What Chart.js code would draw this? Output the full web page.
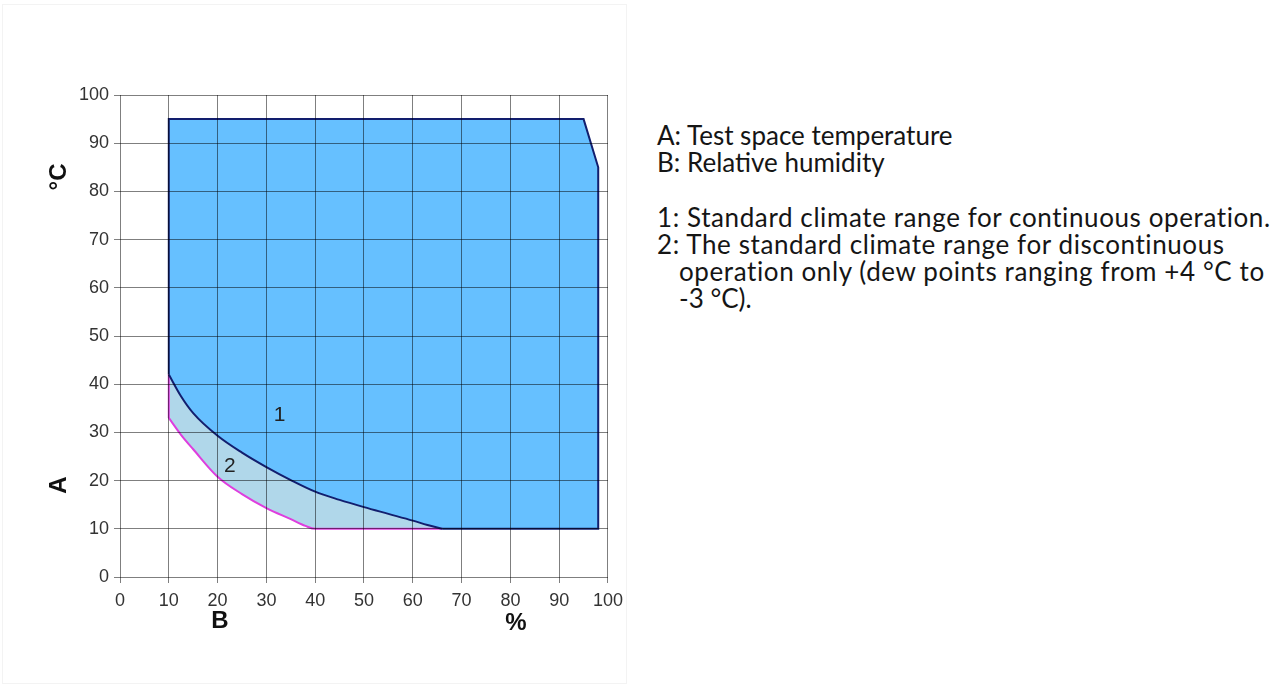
<!DOCTYPE html>
<html>
<head>
<meta charset="utf-8">
<script src="https://cdn.jsdelivr.net/npm/chart.js@4.4.1/dist/chart.umd.min.js"></script>
<style>
  body{margin:0;background:#fff;width:1279px;height:687px;overflow:hidden;position:relative;}
  #panel{position:absolute;left:2px;top:4px;width:625px;height:680px;border:1px solid #f3f3f3;box-sizing:border-box;}
  #wrap{position:absolute;left:0;top:0;width:630px;height:687px;}
  #notes{position:absolute;left:657px;top:122px;font-family:Lato,"Open Sans",sans-serif;font-size:26px;line-height:27.2px;color:#151515;}
  #notes p{margin:0;white-space:nowrap;}
  #notes .wide{letter-spacing:0.6px;}
  .ind{padding-left:22px;}
</style>
</head>
<body>
<div id="panel"></div>
<div id="wrap"><canvas id="myChart" width="630" height="687"></canvas></div>
<div id="notes">
  <p>A: Test space temperature</p>
  <p>B: Relative humidity</p>
  <p>&nbsp;</p>
  <p class="wide">1: Standard climate range for continuous operation.</p>
  <p class="wide">2: The standard climate range for discontinuous</p>
  <p class="ind wide">operation only (dew points ranging from +4 °C to</p>
  <p class="ind">-3 °C).</p>
</div>
<script>
const ctx = document.getElementById("myChart").getContext("2d");

// relative humidity (%) / temperature (°C)
// range 1 straight outline: left edge, top, slanted corner, right edge, bottom
const edgeX=[10,10,95,98,98,66];
const edgeY=[42,95,95,85,10,10];

// dark curve between range 1 and range 2 (10 % -> 66 %)
const curveX=[10,12.5,15,20,25,30,35,40,45,50,55,60,63,66];
const curveY=[42,37.5,34,29.3,25.8,22.8,20.1,17.7,16,14.5,13.1,11.7,10.8,10];

// lower (magenta) boundary of range 2
const lowX=[10,12.5,15,20,25,30,35,38,40,66];
const lowY=[33,29.5,26.5,20.8,17.2,14.3,12,10.6,10,10];

const ticks=[0,10,20,30,40,50,60,70,80,90,100];

function pts(xs,ys){return xs.map((x,i)=>({x:x,y:ys[i]}));}

// areas built from the boundaries above
const range1Area=pts(edgeX,edgeY).concat(pts(curveX,curveY).reverse());
const range2Area=[{x:10,y:42}].concat(pts(lowX,lowY), pts(curveX,curveY).reverse());

const labelsPlugin={
  id:'labels',
  afterDraw(chart){
    const c=chart.ctx, xs=chart.scales.x, ys=chart.scales.y;
    c.save();
    c.fillStyle='#111';
    c.textAlign='center';
    c.textBaseline='middle';
    c.font='bold 24px "Liberation Sans", Arial, sans-serif';
    c.save();c.translate(59,177);c.rotate(-Math.PI/2);c.fillText('°C',0,0);c.restore();
    c.save();c.translate(59,485);c.rotate(-Math.PI/2);c.fillText('A',0,0);c.restore();
    c.fillText('B',220,621);
    c.fillText('%',516,623);
    c.font='21px "Liberation Sans", Arial, sans-serif';
    c.fillStyle='#222';
    c.fillText('1',xs.getPixelForValue(32.7),ys.getPixelForValue(33.6));
    c.fillText('2',xs.getPixelForValue(22.5),ys.getPixelForValue(23));
    c.restore();
  }
};

const navy='rgb(18,30,110)';
const magenta='rgb(222,62,222)';
const common={pointRadius:0,showLine:true};

const data={
  datasets:[
    {...common,data:range2Area,fill:'shape',backgroundColor:'rgb(176,215,234)',borderWidth:0,order:6},
    {...common,data:range1Area,fill:'shape',backgroundColor:'rgb(102,192,255)',borderWidth:0,order:5},
    {...common,data:pts(edgeX,edgeY),fill:false,borderColor:navy,borderWidth:2,order:4},
    {...common,data:[{x:10,y:42},{x:10,y:33}],fill:false,borderColor:magenta,borderWidth:2,order:3},
    {...common,data:pts(lowX,lowY),fill:false,borderColor:magenta,borderWidth:2,cubicInterpolationMode:'monotone',order:2},
    {...common,data:pts(curveX,curveY),fill:false,borderColor:navy,borderWidth:2,cubicInterpolationMode:'monotone',order:1}
  ]
};

const config={type:'scatter',
data:data,
options:{
  responsive:false,
  animation:false,
  layout:{padding:{left:0,right:21,top:95,bottom:0}},
  plugins:{legend:{display:false},tooltip:{enabled:false}},
  scales:{
    x:{
      type:'linear',min:0,max:100,
      afterBuildTicks:s=>{s.ticks=ticks.map(v=>({value:v}));},
      afterFit:s=>{s.height=110;},
      grid:{color:'rgba(0,0,0,0.5)',z:1,tickLength:6},
      border:{display:false},
      ticks:{color:'#333',padding:7,maxRotation:0,font:{family:'"Liberation Sans", Arial',size:18}}
    },
    y:{
      type:'linear',min:0,max:100,
      afterBuildTicks:s=>{s.ticks=ticks.map(v=>({value:v}));},
      afterFit:s=>{s.width=120;},
      grid:{color:'rgba(0,0,0,0.5)',z:1,tickLength:6},
      border:{display:false},
      ticks:{color:'#333',padding:5,font:{family:'"Liberation Sans", Arial',size:18}}
    }
  }
},
plugins:[labelsPlugin]
};

const myChart=new Chart(ctx,config);
</script>
</body>
</html>
